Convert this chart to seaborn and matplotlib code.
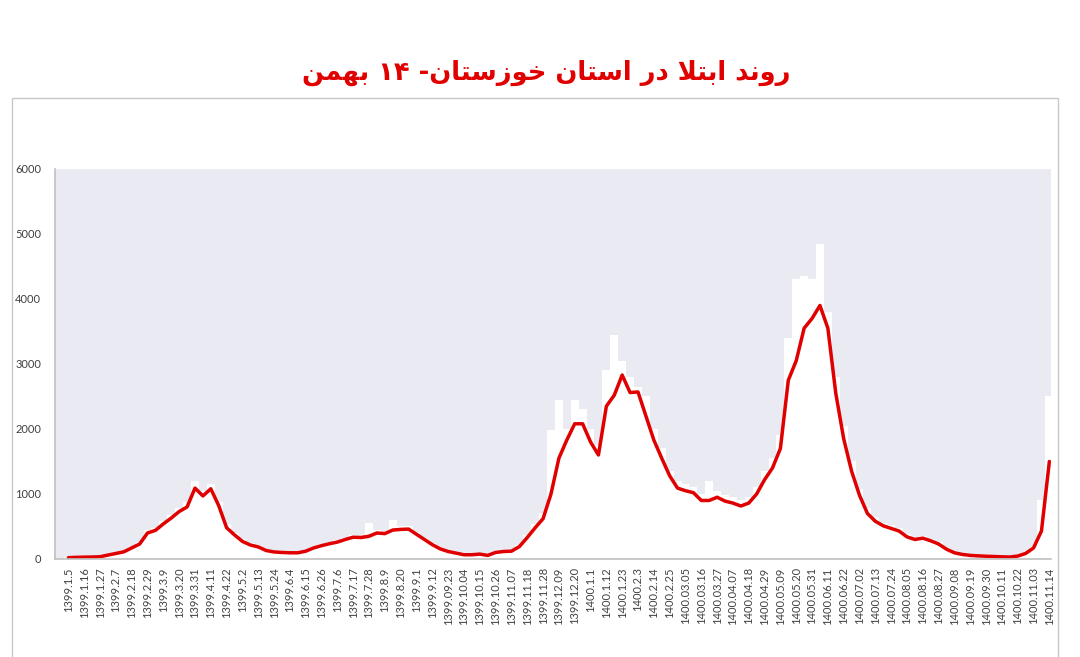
import re
import matplotlib
matplotlib.use("Agg")
import matplotlib.pyplot as plt
import seaborn as sns
import pandas as pd
from matplotlib.patches import Rectangle

title = 'روند ابتلا در استان خوزستان- ۱۴ بهمن'

tick_labels = ['1399.1.5', '1399.1.16', '1399.1.27', '1399.2.7', '1399.2.18', '1399.2.29',
               '1399.3.9', '1399.3.20', '1399.3.31', '1399.4.11', '1399.4.22', '1399.5.2',
               '1399.5.13', '1399.5.24', '1399.6.4', '1399.6.15', '1399.6.26', '1399.7.6',
               '1399.7.17', '1399.7.28', '1399.8.9', '1399.8.20', '1399.9.1', '1399.9.12',
               '1399.09.23', '1399.10.04', '1399.10.15', '1399.10.26', '1399.11.07',
               '1399.11.18', '1399.11.28', '1399.12.09', '1399.12.20', '1400.1.1',
               '1400.1.12', '1400.1.23', '1400.2.3', '1400.2.14', '1400.2.25', '1400.03.05',
               '1400.03.16', '1400.03.27', '1400.04.07', '1400.04.18', '1400.04.29',
               '1400.05.09', '1400.05.20', '1400.05.31', '1400.06.11', '1400.06.22',
               '1400.07.02', '1400.07.13', '1400.07.24', '1400.08.05', '1400.08.16',
               '1400.08.27', '1400.09.08', '1400.09.19', '1400.09.30', '1400.10.11',
               '1400.10.22', '1400.11.03', '1400.11.14']

# moving average (red line), one value every ~5.5 days (labels sit on every 2nd value)
smooth = [20, 25, 28, 30, 35, 60, 85, 110, 170, 230,
          400, 440, 540, 630, 730, 800, 1090, 970, 1080, 820,
          480, 370, 270, 215, 185, 130, 108, 100, 95, 95,
          120, 170, 205, 235, 260, 300, 335, 330, 350, 400,
          390, 445, 455, 460, 380, 300, 220, 155, 115, 90,
          65, 65, 75, 55, 100, 115, 120, 190, 330, 480,
          620, 1000, 1550, 1830, 2080, 2080, 1800, 1600, 2350, 2520,
          2830, 2560, 2570, 2200, 1830, 1550, 1280, 1090, 1050, 1020,
          900, 900, 950, 890, 860, 815, 860, 1000, 1220, 1400,
          1700, 2750, 3050, 3550, 3700, 3900, 3550, 2550, 1850, 1350,
          980, 700, 580, 510, 470, 430, 340, 300, 320, 280,
          230, 150, 95, 70, 55, 48, 42, 38, 33, 30,
          45, 85, 170, 430, 1500]

# daily cases (white bars)
daily = [25, 30, 30, 35, 40, 70, 95, 130, 190, 260,
         440, 470, 580, 680, 780, 880, 1200, 1050, 1150, 880,
         540, 400, 300, 240, 200, 145, 120, 110, 105, 105,
         135, 190, 225, 255, 285, 330, 370, 360, 560, 440,
         420, 600, 500, 510, 420, 330, 245, 170, 130, 100,
         75, 75, 90, 65, 115, 130, 135, 215, 370, 540,
         700, 1980, 2450, 2000, 2450, 2300, 2000, 1750, 2900, 3450,
         3050, 2800, 2650, 2500, 2000, 1700, 1350, 1200, 1150, 1100,
         1000, 1200, 1050, 980, 950, 900, 950, 1100, 1350, 1550,
         1900, 3400, 4300, 4350, 4300, 4850, 3800, 2800, 2050, 1500,
         1080, 780, 640, 560, 520, 470, 380, 330, 350, 310,
         255, 170, 105, 80, 60, 55, 48, 42, 38, 35,
         50, 95, 190, 900, 2500]

# matplotlib has no arabic shaping, so pick the presentation forms by hand
FORMS = {
    'ا': ('\uFE8D', '\uFE8E', None, None),
    'ب': ('\uFE8F', '\uFE90', '\uFE91', '\uFE92'),
    'ت': ('\uFE95', '\uFE96', '\uFE97', '\uFE98'),
    'خ': ('\uFEA5', '\uFEA6', '\uFEA7', '\uFEA8'),
    'د': ('\uFEA9', '\uFEAA', None, None),
    'ر': ('\uFEAD', '\uFEAE', None, None),
    'ز': ('\uFEAF', '\uFEB0', None, None),
    'س': ('\uFEB1', '\uFEB2', '\uFEB3', '\uFEB4'),
    'ل': ('\uFEDD', '\uFEDE', '\uFEDF', '\uFEE0'),
    'م': ('\uFEE1', '\uFEE2', '\uFEE3', '\uFEE4'),
    'ن': ('\uFEE5', '\uFEE6', '\uFEE7', '\uFEE8'),
    'ه': ('\uFEE9', '\uFEEA', '\uFEEB', '\uFEEC'),
    'و': ('\uFEED', '\uFEEE', None, None),
}


def shape(text):
    out = []
    i = 0
    while i < len(text):
        c = text[i]
        if c not in FORMS:
            out.append(c)
            i += 1
            continue
        prev = text[i - 1] if i > 0 else ''
        joins_prev = prev in FORMS and FORMS[prev][2] is not None
        if c == 'ل' and i + 1 < len(text) and text[i + 1] == 'ا':
            out.append('\uFEFC' if joins_prev else '\uFEFB')
            i += 2
            continue
        nxt = text[i + 1] if i + 1 < len(text) else ''
        joins_next = FORMS[c][2] is not None and nxt in FORMS
        iso, fin, ini, med = FORMS[c]
        if joins_prev and joins_next:
            out.append(med)
        elif joins_prev:
            out.append(fin)
        elif joins_next:
            out.append(ini)
        else:
            out.append(iso)
        i += 1
    tokens = re.findall(r'[\u06F0-\u06F90-9]+|.', ''.join(out))
    return ''.join(reversed(tokens))


df = pd.DataFrame({'pos': range(len(smooth)), 'smooth': smooth, 'daily': daily})

sns.set_style('white')
plt.rcParams['font.family'] = ['Lato', 'DejaVu Sans']

fig = plt.figure(figsize=(10.8, 6.57), dpi=100)
ax = fig.add_axes([0.0509, 0.1492, 0.9222, 0.5936])
ax.set_facecolor('#EAEAF2')

sns.barplot(data=df, x='pos', y='daily', color='white', saturation=1, width=1.0,
            native_scale=True, errorbar=None, linewidth=0, ax=ax)
sns.lineplot(data=df, x='pos', y='smooth', color='#e00000', linewidth=2.5, ax=ax)

ax.set_xlim(-1.7, 124.2)
ax.set_ylim(0, 6000)
ax.set_yticks(range(0, 6001, 1000))
ax.set_xticks(range(0, len(smooth), 2))
ax.set_xticklabels(tick_labels, rotation=90)
ax.set_xlabel('')
ax.set_ylabel('')
ax.tick_params(axis='both', length=0, labelcolor='#404040')
ax.tick_params(axis='y', pad=10, labelsize=8)
ax.tick_params(axis='x', pad=6, labelsize=8)
for s in ['top', 'right']:
    ax.spines[s].set_visible(False)
for s in ['left', 'bottom']:
    ax.spines[s].set_color('#c0c0c0')
    ax.spines[s].set_linewidth(1.2)

fig.add_artist(Rectangle((12 / 1080, -0.05), (1058 - 12) / 1080, 1 - 98 / 657 + 0.05,
                         transform=fig.transFigure, fill=False,
                         edgecolor='#c8c8c8', linewidth=1))

fig.text(0.506, 0.889, shape(title), ha='center', va='center', fontsize=18.5,
         fontweight='bold', color='#e00000', family=['DejaVu Sans'])

fig.savefig('out.png', dpi=100)
